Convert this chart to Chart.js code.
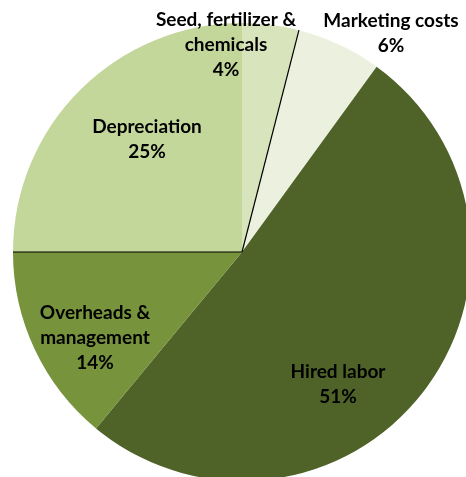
<!DOCTYPE html>
<html>
<head>
<meta charset="utf-8">
<script src="https://cdn.jsdelivr.net/npm/chart.js@4"></script>
<style>
  html, body { margin: 0; padding: 0; background: #fff; overflow: hidden; width: 466px; height: 477px; }
  #wrap { position: absolute; left: 0; top: 0; width: 484px; height: 504px; }
</style>
</head>
<body>
<div id="wrap"><canvas id="costPie"></canvas></div>
<script>
const categories = [
  ["Seed, fertilizer &", "chemicals"],
  ["Marketing costs"],
  ["Hired labor"],
  ["Overheads &", "management"],
  ["Depreciation"],
];
const shares = [4, 6, 51, 14, 25];
const sliceColors = ["#d8e4bc", "#ebf1de", "#4f6228", "#77933c", "#c4d79b"];
// label block centres, relative to the pie centre (px)
const labelOffsets = [[-16, -207], [149, -219], [96, 132], [-147, 86], [-95, -113]];
// slices that have a thin dark edge after them
const darkEdges = [0, 3];

const ctx = document.getElementById("costPie");

const labelPlugin = {
  id: "sliceLabels",
  afterDatasetsDraw(chart) {
    const c = chart.ctx;
    const arcs = chart.getDatasetMeta(0).data;
    const cx = arcs[0].x;
    const cy = arcs[0].y;

    c.save();
    c.strokeStyle = "#000";
    c.lineWidth = 1.2;
    darkEdges.forEach((i) => {
      const a = arcs[i];
      c.beginPath();
      c.moveTo(cx, cy);
      c.lineTo(cx + Math.cos(a.endAngle) * a.outerRadius, cy + Math.sin(a.endAngle) * a.outerRadius);
      c.stroke();
    });

    c.fillStyle = "#000";
    c.font = "bold 19px Lato";
    c.textAlign = "center";
    c.textBaseline = "middle";
    const lineH = 25;
    categories.forEach((lines, i) => {
      const all = lines.concat([shares[i] + "%"]);
      const x = cx + labelOffsets[i][0];
      const y0 = cy + labelOffsets[i][1] - ((all.length - 1) * lineH) / 2;
      all.forEach((t, k) => c.fillText(t, x, y0 + k * lineH));
    });
    c.restore();
  },
};

new Chart(ctx, {
  type: "pie",
  data: {
    labels: categories.map((l) => l.join(" ")),
    datasets: [
      {
        data: shares,
        backgroundColor: sliceColors,
        borderWidth: 0,
      },
    ],
  },
  options: {
    responsive: true,
    maintainAspectRatio: false,
    animation: false,
    layout: { padding: 13 },
    plugins: {
      legend: { display: false },
      tooltip: { enabled: false },
    },
  },
  plugins: [labelPlugin],
});
</script>
</body>
</html>
